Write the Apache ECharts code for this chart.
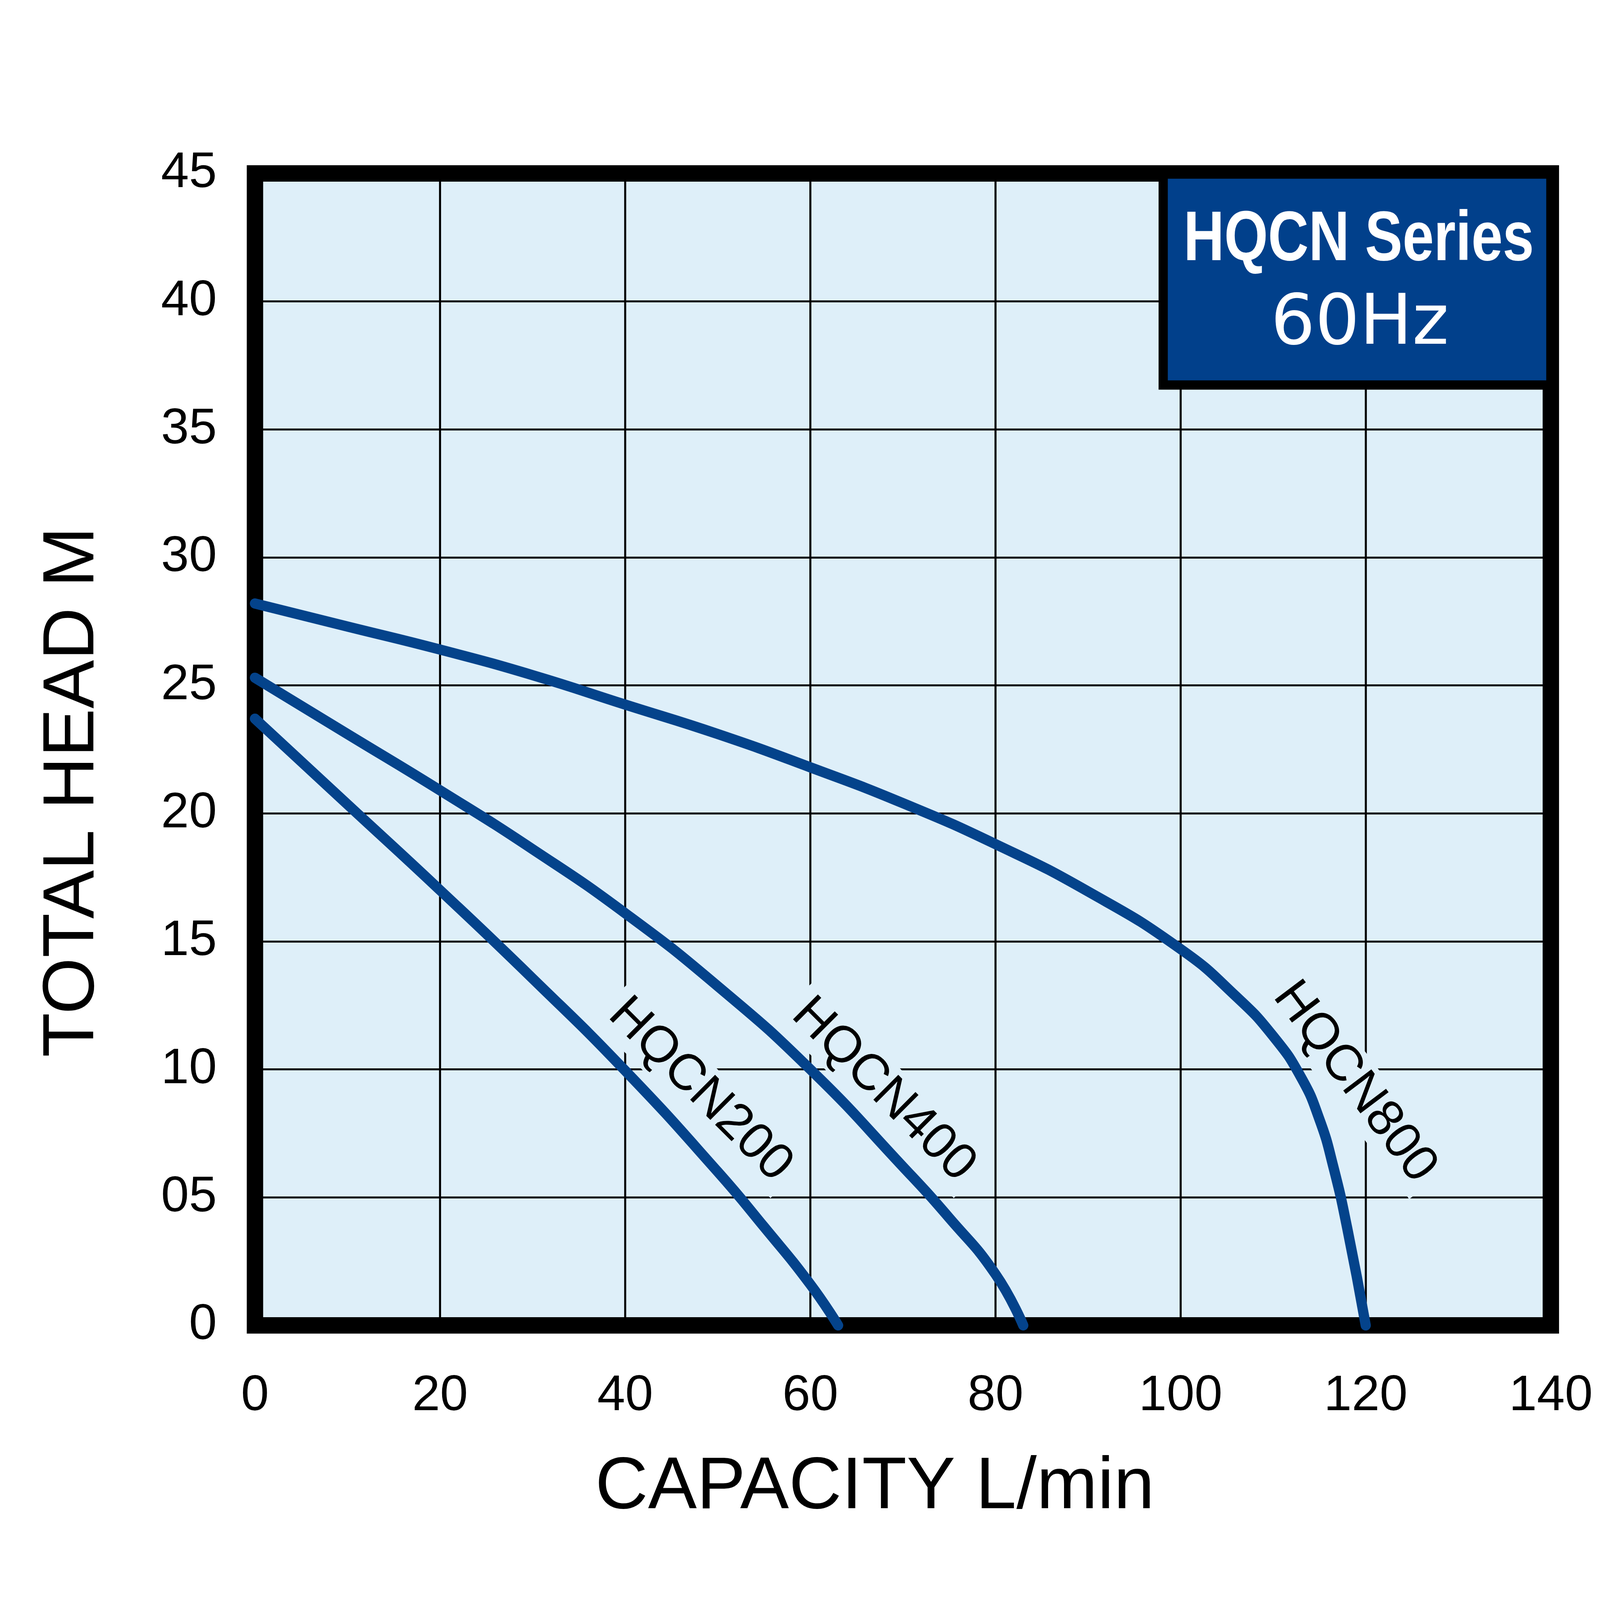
<!DOCTYPE html>
<html>
<head>
<meta charset="utf-8">
<title>HQCN Series 60Hz</title>
<script src="https://cdn.jsdelivr.net/npm/echarts@6/dist/echarts.min.js"></script>
<style>
html, body { margin: 0; padding: 0; background: #fff; overflow: hidden; }
#pump_chart { width: 100vw; height: 100vh; }
</style>
</head>
<body>
<div id="pump_chart"></div>
<script>
// curve data (capacity L/min, total head m)
var seriesNames = ['HQCN200', 'HQCN400', 'HQCN800'];

var hqcn200Flow = [0, 10, 20, 30, 40, 50, 55, 60, 63];
var hqcn200Head = [23.7, 20.35, 17.0, 13.55, 9.95, 6.0, 3.85, 1.6, 0];

var hqcn400Flow = [0, 10, 20, 30, 40, 50, 60, 70, 75, 80, 83];
var hqcn400Head = [25.3, 23.1, 20.9, 18.6, 16.1, 13.25, 10.0, 6.2, 4.2, 2.0, 0];

var hqcn800Flow = [0, 10, 20, 30, 40, 50, 60, 70, 80, 90, 100, 106, 110, 113, 115, 116.5, 118, 120];
var hqcn800Head = [28.2, 27.3, 26.4, 25.4, 24.25, 23.1, 21.8, 20.4, 18.8, 16.95, 14.7, 12.85, 11.3, 9.7, 8.05, 6.2, 3.8, 0];

var xTickLabels = ['0', '20', '40', '60', '80', '100', '120', '140'];
var yTickLabels = ['0', '05', '10', '15', '20', '25', '30', '35', '40', '45'];

// where each model name sits along its curve
var curveLabelAt = [[48.1, 9.2], [67.9, 9.2], [118.8, 9.5]];
var curveLabelAngle = [-45, -45, -53];

var boxTitle = 'HQCN Series';
var boxSubtitle = '60Hz';

var lineColor = '#04438B';
var plotFill = '#DEEFF9';
var boxFill = '#01408B';

var chartEl = document.getElementById('pump_chart');
var chart = echarts.init(chartEl, null, { renderer: 'canvas' });

// layout was measured on a 7813 px square, scale it to the real size
var S = Math.min(chartEl.clientWidth, chartEl.clientHeight) / 7813;
function px(v) { return v * S; }

// squeeze a font horizontally so the text spans a given width
function squeezeTo(text, font, targetWidth) {
	var ctx = document.createElement('canvas').getContext('2d');
	ctx.font = font;
	var w = ctx.measureText(text).width;
	return w > 0 ? targetWidth / w : 1;
}

function pairUp(xs, ys) {
	var out = [];
	for (var i = 0; i < xs.length; i++) {
		out.push([xs[i], ys[i]]);
	}
	return out;
}

var flows = [hqcn200Flow, hqcn400Flow, hqcn800Flow];
var heads = [hqcn200Head, hqcn400Head, hqcn800Head];
var labelFont = 'Liberation Sans, Arial, sans-serif';

var seriesList = [];
for (var s = 0; s < seriesNames.length; s++) {
	seriesList.push({
		name: seriesNames[s],
		type: 'line',
		data: pairUp(flows[s], heads[s]),
		smooth: 0.5,
		showSymbol: false,
		silent: true,
		z: 5,
		lineStyle: { color: lineColor, width: px(50), cap: 'round', join: 'round' },
		markPoint: {
			symbol: 'circle',
			symbolSize: 0,
			silent: true,
			data: [{
				coord: curveLabelAt[s],
				label: {
					show: true,
					position: 'inside',
					formatter: seriesNames[s],
					rotate: curveLabelAngle[s],
					color: '#000',
					fontFamily: labelFont,
					fontSize: px(250),
					backgroundColor: plotFill,
					padding: [px(6), px(40)]
				}
			}]
		}
	});
}

var titleFont = 'bold ' + px(345) + 'px "Liberation Sans", Arial, sans-serif';
var titleSqueeze = squeezeTo(boxTitle, titleFont, px(1711));
var subFont = px(340) + 'px "DejaVu Sans", sans-serif';
var subSqueeze = squeezeTo(boxSubtitle, subFont, px(870));

var option = {
	animation: false,
	backgroundColor: '#fff',
	grid: {
		left: px(1245),
		right: px(240),
		top: px(847),
		bottom: px(1341),
		show: true,
		backgroundColor: plotFill,
		borderColor: '#000',
		borderWidth: px(80)
	},
	xAxis: {
		type: 'value',
		min: 0,
		max: 140,
		interval: 20,
		name: 'CAPACITY L/min',
		nameLocation: 'middle',
		nameGap: px(615),
		nameTextStyle: {
			fontFamily: labelFont,
			fontSize: px(357),
			color: '#000',
			padding: [0, px(274), 0, 0]
		},
		axisLine: { show: false },
		axisTick: { show: false },
		axisLabel: {
			margin: px(225),
			fontFamily: labelFont,
			fontSize: px(245),
			color: '#000',
			formatter: function (v) { return xTickLabels[Math.round(v / 20)]; }
		},
		splitLine: { show: true, lineStyle: { color: '#000', width: px(10) } }
	},
	yAxis: {
		type: 'value',
		min: 0,
		max: 45,
		interval: 5,
		name: 'TOTAL HEAD M',
		nameLocation: 'middle',
		nameGap: px(710),
		nameTextStyle: {
			fontFamily: labelFont,
			fontSize: px(355),
			color: '#000',
			padding: [0, px(416), 0, 0]
		},
		axisLine: { show: false },
		axisTick: { show: false },
		axisLabel: {
			margin: px(186),
			fontFamily: labelFont,
			fontSize: px(245),
			color: '#000',
			formatter: function (v) { return yTickLabels[Math.round(v / 5)]; }
		},
		splitLine: { show: true, lineStyle: { color: '#000', width: px(10) } }
	},
	graphic: [
		{
			type: 'rect',
			z: 10,
			shape: { x: px(5680), y: px(850), width: px(1893), height: px(1030) },
			style: { fill: boxFill, stroke: '#000', lineWidth: px(45) }
		},
		{
			type: 'text',
			z: 11,
			x: px(6635),
			y: px(1175),
			scaleX: titleSqueeze,
			style: {
				text: boxTitle,
				fill: '#fff',
				font: titleFont,
				align: 'center',
				verticalAlign: 'middle'
			}
		},
		{
			type: 'text',
			z: 11,
			x: px(6640),
			y: px(1590),
			scaleX: subSqueeze,
			style: {
				text: boxSubtitle,
				fill: '#fff',
				font: subFont,
				align: 'center',
				verticalAlign: 'middle'
			}
		}
	],
	series: seriesList
};

chart.setOption(option);
</script>
</body>
</html>
